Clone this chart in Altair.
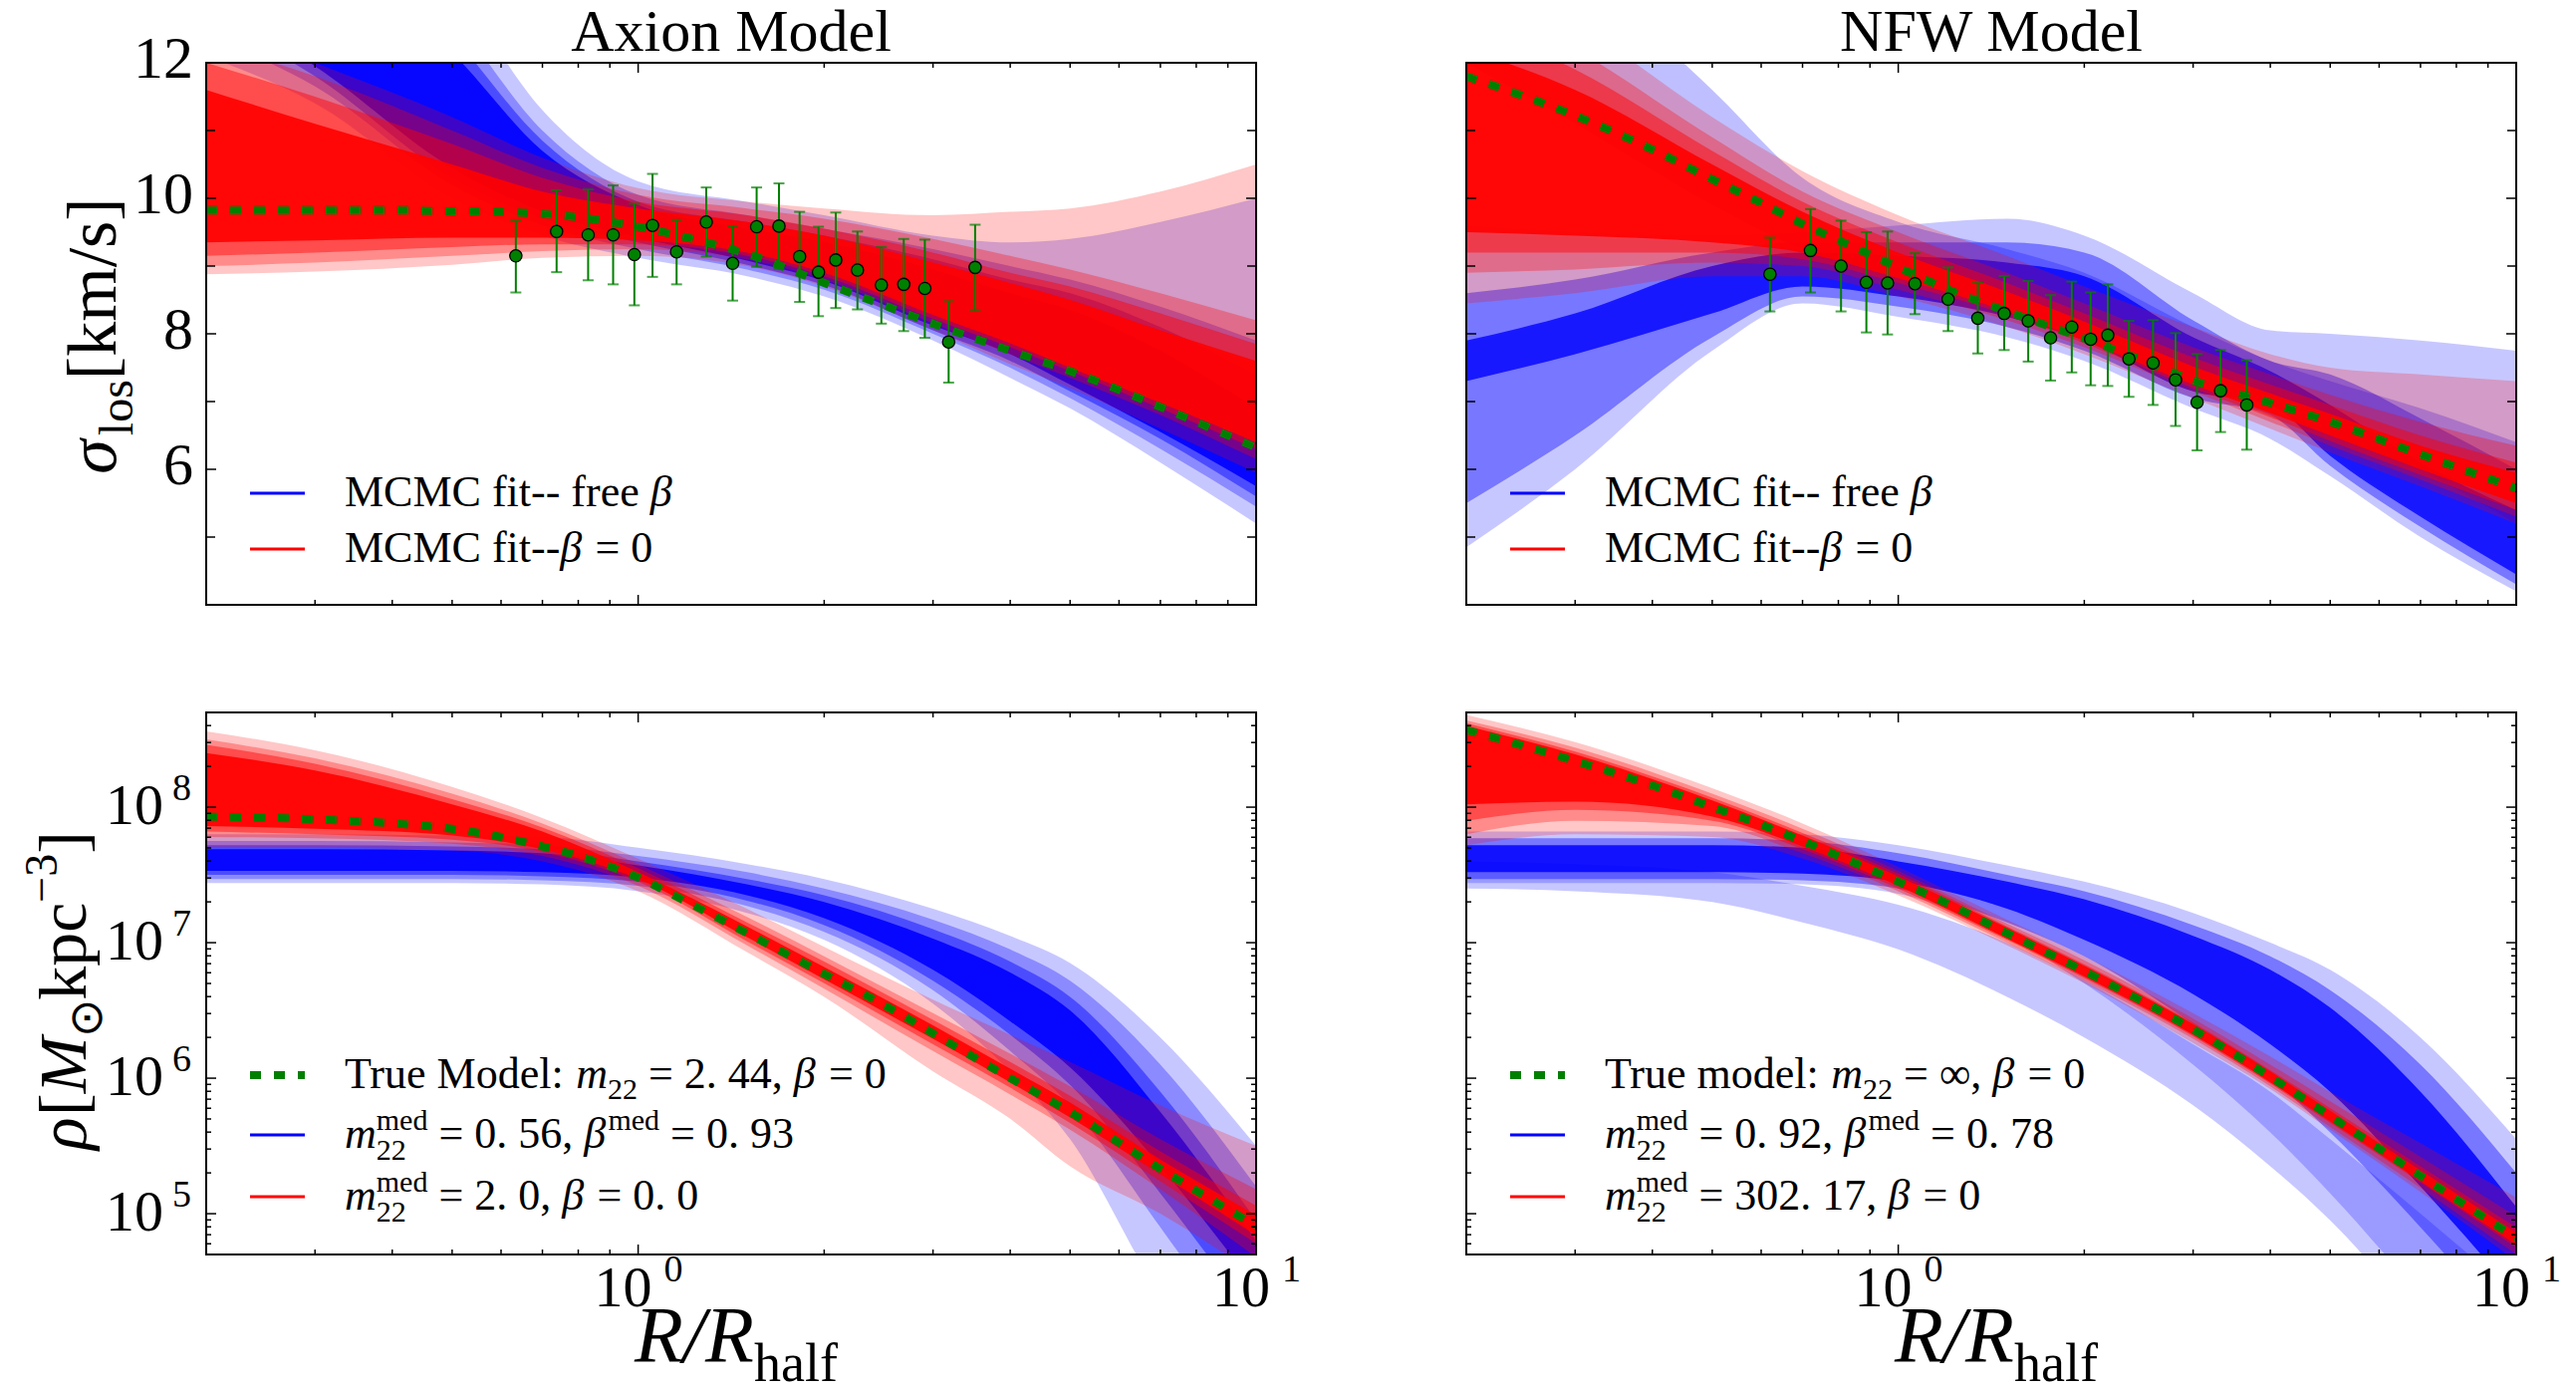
import altair as alt
import pandas as pd

FONT = "Liberation Serif"
W, H = 1054, 544
BLUE, RED, GREEN = "#0000ff", "#ff0000", "#008000"

# ---------------- shared x grids ----------------
BAND_X = [0.2, 0.3, 0.5, 0.7, 1.0, 1.5, 2.0, 3.0, 4.0, 5.0, 7.0, 10.0]
TRUE_X = [0.2, 0.3, 0.4, 0.5, 0.6, 0.7, 0.8, 1.0, 1.2, 1.5, 2.0, 2.5, 3.0, 4.0, 5.0, 7.0, 10.0]

# ---------------- Axion model : sigma_los ----------------
AX_SIG_TRUE = [9.82, 9.82, 9.82, 9.81, 9.80, 9.77, 9.72, 9.58, 9.42, 9.18, 8.75, 8.42, 8.15, 7.75, 7.45, 6.92, 6.32]
AX_SIG_BLUE_LO = [
    [12.1, 11.4, 10.0, 9.45, 9.12, 8.85, 8.55, 7.90, 7.35, 6.90, 6.10, 5.20],
    [12.4, 11.65, 10.2, 9.60, 9.25, 8.95, 8.65, 8.00, 7.50, 7.05, 6.30, 5.45],
    [12.7, 11.8, 10.3, 9.70, 9.35, 9.02, 8.72, 8.05, 7.60, 7.15, 6.45, 5.60],
    [12.9, 11.95, 10.45, 9.80, 9.42, 9.08, 8.78, 8.12, 7.70, 7.25, 6.55, 5.75],
]
AX_SIG_BLUE_HI = [
    [17.0, 15.5, 13.2, 11.3, 10.25, 9.95, 9.75, 9.45, 9.35, 9.40, 9.65, 10.0],
    [16.0, 14.8, 12.7, 11.0, 10.05, 9.75, 9.55, 9.25, 9.00, 8.80, 8.40, 7.90],
    [15.5, 14.3, 12.4, 10.85, 9.95, 9.65, 9.45, 9.10, 8.80, 8.60, 8.10, 7.40],
    [15.0, 13.8, 12.15, 10.7, 9.90, 9.55, 9.35, 8.95, 8.60, 8.35, 7.75, 6.90],
]
AX_SIG_BLUE_ALPHA = [0.22, 0.3, 0.45, 0.9]
AX_SIG_RED_LO = [
    [8.88, 8.92, 9.02, 9.12, 9.15, 9.00, 8.70, 8.05, 7.55, 7.20, 6.60, 5.95],
    [9.00, 9.05, 9.15, 9.22, 9.25, 9.10, 8.80, 8.15, 7.70, 7.35, 6.80, 6.15],
    [9.15, 9.20, 9.28, 9.32, 9.32, 9.15, 8.85, 8.22, 7.80, 7.45, 6.90, 6.30],
    [9.35, 9.38, 9.42, 9.42, 9.38, 9.20, 8.90, 8.28, 7.86, 7.50, 6.98, 6.40],
]
AX_SIG_RED_HI = [
    [12.6, 12.0, 11.2, 10.6, 10.15, 9.95, 9.85, 9.75, 9.80, 9.85, 10.10, 10.50],
    [12.3, 11.8, 11.0, 10.45, 10.05, 9.85, 9.70, 9.40, 9.15, 8.95, 8.60, 8.20],
    [12.0, 11.5, 10.8, 10.3, 9.95, 9.75, 9.55, 9.20, 8.90, 8.70, 8.30, 7.85],
    [11.6, 11.1, 10.5, 10.1, 9.85, 9.65, 9.45, 9.05, 8.75, 8.50, 8.05, 7.60],
]
AX_SIG_RED_ALPHA = [0.22, 0.3, 0.45, 0.9]
AX_OBS_R = [0.634, 0.738, 0.830, 0.911, 0.986, 1.055, 1.154, 1.289, 1.422, 1.555,
            1.690, 1.825, 1.958, 2.088, 2.264, 2.475, 2.69, 2.91, 3.18, 3.51]
AX_OBS_SIG = [9.15, 9.51, 9.46, 9.46, 9.17, 9.60, 9.21, 9.65, 9.04, 9.58,
              9.59, 9.14, 8.91, 9.09, 8.94, 8.72, 8.73, 8.67, 7.88, 8.98]
AX_OBS_TOP = [9.67, 10.12, 10.13, 10.19, 9.92, 10.36, 9.68, 10.16, 9.59, 10.16,
              10.22, 9.80, 9.58, 9.79, 9.51, 9.28, 9.40, 9.39, 8.48, 9.61]
AX_OBS_BOT = [8.61, 8.91, 8.79, 8.73, 8.42, 8.84, 8.73, 9.14, 8.49, 8.99,
              8.96, 8.47, 8.26, 8.38, 8.36, 8.15, 8.04, 7.94, 7.28, 8.35]

# ---------------- NFW model : sigma_los ----------------
NFW_SIG_TRUE = [11.80, 11.22, 10.72, 10.28, 9.93, 9.62, 9.38, 8.98, 8.66, 8.33, 7.93, 7.60, 7.31, 6.98, 6.70, 6.22, 5.72]
NFW_SIG_BLUE_LO = [
    [4.85, 6.00, 7.75, 8.45, 8.25, 7.95, 7.60, 6.90, 6.45, 5.90, 5.00, 4.20],
    [12.0, 11.1, 9.90, 9.25, 8.85, 8.45, 8.10, 7.40, 7.05, 6.70, 6.00, 5.20],
    [5.50, 6.50, 7.95, 8.55, 8.40, 8.10, 7.75, 7.05, 6.80, 6.05, 5.15, 4.30],
    [7.30, 7.70, 8.30, 8.70, 8.55, 8.25, 7.90, 7.15, 6.95, 6.20, 5.30, 4.45],
]
NFW_SIG_BLUE_HI = [
    [9.60, 9.50, 9.45, 9.50, 9.60, 9.70, 9.45, 8.60, 8.05, 8.00, 7.90, 7.75],
    [14.5, 13.4, 11.6, 10.3, 9.65, 9.25, 8.90, 8.10, 7.60, 7.30, 6.90, 6.40],
    [8.60, 8.80, 9.20, 9.35, 9.35, 9.35, 9.20, 8.20, 7.60, 7.40, 6.75, 6.00],
    [7.90, 8.30, 9.00, 9.20, 9.15, 9.05, 8.85, 7.95, 7.45, 6.95, 6.10, 5.40],
]
NFW_SIG_BLUE_ALPHA = [0.22, 0.25, 0.4, 0.8]
NFW_SIG_RED_LO = [
    [8.45, 8.60, 8.85, 8.85, 8.55, 8.10, 7.70, 7.05, 6.60, 6.25, 5.75, 5.20],
    [8.90, 8.95, 9.05, 9.00, 8.65, 8.20, 7.80, 7.15, 6.70, 6.35, 5.85, 5.30],
    [9.20, 9.20, 9.20, 9.10, 8.75, 8.28, 7.86, 7.20, 6.77, 6.42, 5.92, 5.40],
    [9.50, 9.45, 9.35, 9.20, 8.82, 8.33, 7.90, 7.25, 6.83, 6.50, 6.00, 5.50],
]
NFW_SIG_RED_HI = [
    [13.5, 12.6, 11.2, 10.4, 9.75, 9.15, 8.70, 8.10, 7.70, 7.50, 7.40, 7.30],
    [13.0, 12.2, 10.9, 10.1, 9.50, 8.90, 8.45, 7.80, 7.40, 7.10, 6.70, 6.35],
    [12.6, 11.9, 10.7, 9.95, 9.35, 8.75, 8.30, 7.65, 7.25, 6.95, 6.50, 6.10],
    [12.2, 11.6, 10.5, 9.80, 9.20, 8.62, 8.18, 7.52, 7.12, 6.82, 6.35, 5.95],
]
NFW_SIG_RED_ALPHA = [0.22, 0.3, 0.45, 0.9]
NFW_OBS_R = [0.620, 0.721, 0.808, 0.888, 0.961, 1.064, 1.204, 1.345, 1.484, 1.623,
             1.764, 1.909, 2.048, 2.183, 2.362, 2.584, 2.81, 3.045, 3.323, 3.664]
NFW_OBS_SIG = [8.88, 9.23, 9.00, 8.76, 8.75, 8.74, 8.51, 8.23, 8.30, 8.19,
               7.94, 8.10, 7.92, 7.98, 7.63, 7.57, 7.32, 6.99, 7.16, 6.95]
NFW_OBS_TOP = [9.42, 9.84, 9.67, 9.50, 9.51, 9.19, 8.98, 8.75, 8.85, 8.78,
               8.57, 8.77, 8.61, 8.73, 8.19, 8.20, 8.01, 7.70, 7.76, 7.61]
NFW_OBS_BOT = [8.33, 8.61, 8.33, 8.02, 7.99, 8.29, 8.04, 7.71, 7.76, 7.59,
               7.31, 7.43, 7.24, 7.23, 7.07, 6.95, 6.64, 6.28, 6.55, 6.29]

# ---------------- Axion model : density (log10 of rho) ----------------
AX_RHO_TRUE_LOG10 = [7.93, 7.91, 7.88, 7.84, 7.78, 7.71, 7.64, 7.48, 7.30, 7.07, 6.77, 6.54, 6.33, 6.00, 5.75, 5.33, 4.91]
AX_RHO_BLUE_LO_LOG10 = [
    [7.44, 7.44, 7.44, 7.43, 7.38, 7.22, 7.02, 6.55, 6.05, 5.55, 4.40, 3.50],
    [7.47, 7.47, 7.47, 7.46, 7.42, 7.27, 7.08, 6.65, 6.20, 5.80, 4.90, 3.90],
    [7.50, 7.50, 7.50, 7.49, 7.45, 7.31, 7.13, 6.72, 6.32, 5.95, 5.15, 4.20],
    [7.53, 7.53, 7.53, 7.52, 7.48, 7.35, 7.18, 6.80, 6.42, 6.08, 5.35, 4.45],
]
AX_RHO_BLUE_HI_LOG10 = [
    [7.80, 7.80, 7.79, 7.78, 7.70, 7.58, 7.47, 7.25, 7.05, 6.85, 6.30, 5.50],
    [7.75, 7.75, 7.74, 7.72, 7.64, 7.52, 7.40, 7.17, 6.95, 6.72, 6.10, 5.20],
    [7.72, 7.72, 7.71, 7.69, 7.60, 7.47, 7.35, 7.10, 6.86, 6.60, 5.90, 4.95],
    [7.69, 7.69, 7.68, 7.66, 7.57, 7.43, 7.30, 7.03, 6.78, 6.50, 5.75, 4.80],
]
AX_RHO_BLUE_ALPHA = [0.22, 0.3, 0.45, 0.9]
AX_RHO_RED_LO_LOG10 = [
    [7.70, 7.70, 7.68, 7.60, 7.38, 6.93, 6.60, 6.05, 5.70, 5.35, 5.00, 4.55],
    [7.78, 7.77, 7.73, 7.64, 7.42, 6.98, 6.66, 6.20, 5.88, 5.62, 5.18, 4.68],
    [7.82, 7.80, 7.76, 7.67, 7.45, 7.01, 6.70, 6.25, 5.93, 5.67, 5.24, 4.78],
    [7.86, 7.84, 7.79, 7.69, 7.47, 7.04, 6.73, 6.29, 5.97, 5.71, 5.29, 4.84],
]
AX_RHO_RED_HI_LOG10 = [
    [8.56, 8.42, 8.15, 7.92, 7.62, 7.25, 6.97, 6.58, 6.32, 6.12, 5.80, 5.50],
    [8.50, 8.36, 8.10, 7.88, 7.58, 7.19, 6.90, 6.48, 6.18, 5.94, 5.55, 5.18],
    [8.46, 8.32, 8.06, 7.85, 7.55, 7.15, 6.86, 6.43, 6.12, 5.87, 5.46, 5.06],
    [8.40, 8.27, 8.02, 7.82, 7.52, 7.12, 6.82, 6.39, 6.07, 5.82, 5.40, 4.99],
]
AX_RHO_RED_ALPHA = [0.22, 0.3, 0.45, 0.9]

# ---------------- NFW model : density (log10 of rho) ----------------
NFW_RHO_TRUE_LOG10 = [8.57, 8.34, 8.16, 8.00, 7.87, 7.75, 7.64, 7.45, 7.29, 7.07, 6.79, 6.56, 6.36, 6.01, 5.72, 5.28, 4.82]
NFW_RHO_BLUE_LO_LOG10 = [
    [7.44, 7.44, 7.44, 7.43, 7.36, 7.05, 6.70, 6.10, 5.60, 5.15, 4.40, 3.60],
    [7.40, 7.38, 7.30, 7.15, 6.95, 6.60, 6.30, 5.80, 5.35, 4.95, 4.20, 3.30],
    [7.47, 7.47, 7.47, 7.46, 7.40, 7.15, 6.90, 6.40, 6.00, 5.60, 4.90, 4.10],
    [7.52, 7.52, 7.52, 7.51, 7.45, 7.25, 7.02, 6.62, 6.25, 5.90, 5.20, 4.40],
]
NFW_RHO_BLUE_HI_LOG10 = [
    [7.82, 7.82, 7.82, 7.80, 7.72, 7.57, 7.45, 7.22, 7.00, 6.80, 6.30, 5.55],
    [7.60, 7.58, 7.52, 7.42, 7.28, 7.00, 6.72, 6.25, 5.90, 5.55, 5.00, 4.40],
    [7.77, 7.77, 7.77, 7.75, 7.66, 7.50, 7.38, 7.13, 6.90, 6.65, 6.10, 5.30],
    [7.72, 7.72, 7.72, 7.70, 7.60, 7.45, 7.32, 7.05, 6.80, 6.52, 5.90, 5.05],
]
NFW_RHO_BLUE_ALPHA = [0.22, 0.22, 0.4, 0.85]
NFW_RHO_RED_LO_LOG10 = [
    [7.72, 7.80, 7.78, 7.62, 7.35, 6.98, 6.70, 6.26, 5.92, 5.62, 5.16, 4.65],
    [7.80, 7.90, 7.86, 7.66, 7.38, 7.00, 6.72, 6.29, 5.94, 5.64, 5.19, 4.70],
    [7.90, 7.98, 7.90, 7.69, 7.40, 7.02, 6.74, 6.31, 5.96, 5.67, 5.23, 4.75],
    [8.02, 8.04, 7.93, 7.71, 7.42, 7.03, 6.75, 6.32, 5.97, 5.68, 5.24, 4.77],
]
NFW_RHO_RED_HI_LOG10 = [
    [8.68, 8.48, 8.14, 7.88, 7.56, 7.17, 6.90, 6.48, 6.16, 5.90, 5.52, 5.12],
    [8.64, 8.44, 8.10, 7.84, 7.53, 7.14, 6.87, 6.44, 6.10, 5.83, 5.42, 4.98],
    [8.62, 8.41, 8.07, 7.81, 7.51, 7.12, 6.84, 6.41, 6.06, 5.78, 5.35, 4.90],
    [8.60, 8.39, 8.05, 7.79, 7.49, 7.11, 6.83, 6.40, 6.05, 5.76, 5.32, 4.86],
]
NFW_RHO_RED_ALPHA = [0.22, 0.3, 0.45, 0.9]

# ---------------- text ----------------
TITLES = ["Axion Model", "NFW Model"]
SIG_LEGEND = [
    [("rm", "MCMC fit-- free "), ("it", "\u03b2")],
    [("rm", "MCMC fit--"), ("it", "\u03b2"), ("rm", " = 0")],
]
AX_RHO_LEGEND = [
    [("rm", "True Model: "), ("it", "m"), ("sub", "22"), ("rm", " = 2. 44, "), ("it", "\u03b2"), ("rm", " = 0")],
    [("it", "m"), ("subsup", "med", "22"), ("rm", " = 0. 56, "), ("it", "\u03b2"), ("sup", "med"), ("rm", " = 0. 93")],
    [("it", "m"), ("subsup", "med", "22"), ("rm", " = 2. 0, "), ("it", "\u03b2"), ("rm", " = 0. 0")],
]
NFW_RHO_LEGEND = [
    [("rm", "True model: "), ("it", "m"), ("sub", "22"), ("rm", " = \u221e, "), ("it", "\u03b2"), ("rm", " = 0")],
    [("it", "m"), ("subsup", "med", "22"), ("rm", " = 0. 92, "), ("it", "\u03b2"), ("sup", "med"), ("rm", " = 0. 78")],
    [("it", "m"), ("subsup", "med", "22"), ("rm", " = 302. 17, "), ("it", "\u03b2"), ("rm", " = 0")],
]
SIG_YTITLE = [("it", "\u03c3"), ("sub", "los"), ("rm", "[km/s]")]
RHO_YTITLE = [("it", "\u03c1"), ("rm", "["), ("it", "M"), ("sub", "\u2299"), ("rm", "kpc"), ("sup", "\u22123"), ("rm", "]")]
X_TITLE = [("it", "R/R"), ("sub", "half")]

LIN_TICKS_MAJOR = [4, 6, 8, 10, 12]
LIN_TICKS_MINOR = [5, 7, 9, 11]
LIN_LABELS = [6, 8, 10, 12]
X_MAJOR = [1, 10]
X_MINOR = [0.3, 0.4, 0.5, 0.6, 0.7, 0.8, 0.9, 2, 3, 4, 5, 6, 7, 8, 9]
X_LABEL_EXP = ["0", "1"]
LOG_Y_MAJOR = [1e5, 1e6, 1e7, 1e8]
LOG_Y_EXP = ["5", "6", "7", "8"]
LOG_Y_MINOR = [m * 10 ** d for d in range(4, 9) for m in range(2, 10) if 5e4 <= m * 10 ** d <= 5e8]

# ---------------- helpers ----------------
ONE = pd.DataFrame({"k": [0]})
CW = {" ": .25, ",": .25, "-": .333, ".": .25, "/": .278, ":": .278, "=": .564, "[": .333, "]": .333,
      "C": .667, "M": .889, "T": .611, "R": .667, "a": .444, "c": .444, "d": .5, "e": .444, "f": .333,
      "h": .5, "i": .278, "k": .5, "l": .278, "m": .778, "o": .5, "p": .5, "r": .333, "s": .389,
      "t": .278, "u": .5, "\u03b2": .55, "\u03c3": .55, "\u03c1": .5, "\u221e": .713, "\u2299": .8,
      "\u2212": .564}
CW_IT = {"m": .722, "R": .611, "M": .833}


def tw(s, size, italic=False):
    tot = 0.0
    for c in s:
        if italic and c in CW_IT:
            tot += CW_IT[c]
        else:
            tot += CW.get(c, 0.5)
    return tot * size


def txt(s, x, y, size, italic=False, align="left", angle=0):
    kw = dict(text=s, fontSize=size, font=FONT, align=align, baseline="alphabetic", color="black")
    if italic:
        kw["fontStyle"] = "italic"
    if angle:
        kw["angle"] = angle
    return alt.Chart(ONE).mark_text(**kw).encode(x=alt.value(x), y=alt.value(y))


def rich(parts, x0, y0, size, angle=0):
    small = round(size * 0.68)
    out = []

    def put(s, a, d, sz, italic):
        n = len(s) - len(s.lstrip(" "))
        a += n * 0.25 * sz
        s = s.strip(" ")
        if not s:
            return
        if angle == 0:
            px, py = x0 + a, y0 + d
        else:
            px, py = x0 + d, y0 - a
        out.append(txt(s, px, py, sz, italic, angle=angle))

    adv = 0.0
    for part in parts:
        kind = part[0]
        if kind in ("rm", "it"):
            put(part[1], adv, 0, size, kind == "it")
            adv += tw(part[1], size, kind == "it")
        elif kind == "sub":
            put(part[1], adv, 0.24 * size, small, False)
            adv += tw(part[1], small)
        elif kind == "sup":
            put(part[1], adv, -0.42 * size, small, False)
            adv += tw(part[1], small)
        elif kind == "subsup":
            put(part[1], adv, -0.42 * size, small, False)
            put(part[2], adv, 0.27 * size, small, False)
            adv += max(tw(part[1], small), tw(part[2], small))
    return out


def rich_len(parts, size):
    small = round(size * 0.68)
    tot = 0.0
    for part in parts:
        if part[0] in ("rm", "it"):
            tot += tw(part[1], size, part[0] == "it")
        elif part[0] == "subsup":
            tot += max(tw(part[1], small), tw(part[2], small))
        else:
            tot += tw(part[1], small)
    return tot


def band_frame(los, his, alphas, log=False):
    rows = []
    for i, (lo, hi, a) in enumerate(zip(los, his, alphas)):
        for x, l, h in zip(BAND_X, lo, hi):
            if log:
                l, h = 10 ** l, 10 ** h
            rows.append({"x": x, "lo": l, "hi": h, "band": i, "op": a})
    return pd.DataFrame(rows)


XS = alt.Scale(type="log", domain=[0.2, 10], nice=False)


def make_panel(ylog, blue, red, true_y, obs=None, title=None, legend=None, legend_kind="sig",
               left=False, bottom=False, ytitle=None):
    if ylog:
        YS = alt.Scale(type="log", domain=[5e4, 5e8], nice=False)
    else:
        YS = alt.Scale(domain=[4, 12], nice=False, zero=False)

    def X(f):
        return alt.X(f, type="quantitative", scale=XS, axis=None)

    def Y(f):
        return alt.Y(f, type="quantitative", scale=YS, axis=None)

    layers = []
    for frame, color in ((blue, BLUE), (red, RED)):
        layers.append(
            alt.Chart(frame).mark_area(clip=True, interpolate="monotone", color=color).encode(
                x=X("x"), y=Y("lo"), y2=alt.Y2("hi"), detail="band:N",
                opacity=alt.Opacity("op:Q", scale=None, legend=None)))
    tdf = pd.DataFrame({"x": TRUE_X, "y": true_y})
    layers.append(alt.Chart(tdf).mark_line(clip=True, interpolate="monotone", color=GREEN,
                                           strokeWidth=8, strokeDash=[11, 13]).encode(x=X("x"), y=Y("y")))
    if obs is not None:
        odf = pd.DataFrame({"x": obs[0], "y": obs[1], "top": obs[2], "bot": obs[3]})
        layers.append(alt.Chart(odf).mark_rule(color=GREEN, strokeWidth=2).encode(
            x=X("x"), y=Y("bot"), y2=alt.Y2("top")))
        for f in ("top", "bot"):
            layers.append(alt.Chart(odf).mark_tick(orient="horizontal", size=11, thickness=2, color=GREEN)
                          .encode(x=X("x"), y=Y(f)))
        layers.append(alt.Chart(odf).mark_circle(size=150, color=GREEN, opacity=1, stroke="black",
                                                 strokeWidth=1.3).encode(x=X("x"), y=Y("y")))

    # inward ticks on all four sides
    xmaj = pd.DataFrame({"v": X_MAJOR})
    xmin = pd.DataFrame({"v": X_MINOR})
    for df, L in ((xmaj, 10), (xmin, 5)):
        layers.append(alt.Chart(df).mark_rule(color="black", strokeWidth=1.5).encode(
            x=X("v"), y=alt.value(H - L), y2=alt.value(H)))
        layers.append(alt.Chart(df).mark_rule(color="black", strokeWidth=1.5).encode(
            x=X("v"), y=alt.value(0), y2=alt.value(L)))
    if ylog:
        ylist = ((pd.DataFrame({"v": LOG_Y_MAJOR}), 10), (pd.DataFrame({"v": LOG_Y_MINOR}), 5))
    else:
        ylist = ((pd.DataFrame({"v": LIN_TICKS_MAJOR}), 10), (pd.DataFrame({"v": LIN_TICKS_MINOR}), 9))
    for df, L in ylist:
        layers.append(alt.Chart(df).mark_rule(color="black", strokeWidth=1.5).encode(
            y=Y("v"), x=alt.value(0), x2=alt.value(L)))
        layers.append(alt.Chart(df).mark_rule(color="black", strokeWidth=1.5).encode(
            y=Y("v"), x=alt.value(W - L), x2=alt.value(W)))

    # tick labels
    if left:
        if ylog:
            ldf = pd.DataFrame({"v": LOG_Y_MAJOR, "e": LOG_Y_EXP})
            layers.append(alt.Chart(ldf).mark_text(text="10", align="right", baseline="alphabetic", dy=17,
                                                   fontSize=58, font=FONT, color="black")
                          .encode(x=alt.value(-43), y=Y("v")))
            layers.append(alt.Chart(ldf).mark_text(align="right", baseline="alphabetic", dy=-7,
                                                   fontSize=38, font=FONT, color="black")
                          .encode(x=alt.value(-15), y=Y("v"), text="e:N"))
        else:
            ldf = pd.DataFrame({"v": LIN_LABELS, "t": [str(v) for v in LIN_LABELS]})
            layers.append(alt.Chart(ldf).mark_text(align="right", baseline="alphabetic", dy=15,
                                                   fontSize=60, font=FONT, color="black")
                          .encode(x=alt.value(-13), y=Y("v"), text="t:N"))
    if bottom:
        xdf = pd.DataFrame({"v": X_MAJOR, "e": X_LABEL_EXP})
        layers.append(alt.Chart(xdf).mark_text(text="10", align="right", baseline="alphabetic", dx=14,
                                               fontSize=58, font=FONT, color="black")
                      .encode(x=X("v"), y=alt.value(H + 52)))
        layers.append(alt.Chart(xdf).mark_text(align="left", baseline="alphabetic", dx=26,
                                               fontSize=38, font=FONT, color="black")
                      .encode(x=X("v"), y=alt.value(H + 27), text="e:N"))
        layers += rich(X_TITLE, 550 - tw("R/R", 80, True), H + 108, 80)

    if ytitle is not None:
        if ylog:
            size = 68
            layers += rich(ytitle, -121, 279 + rich_len(ytitle, size) / 2, size, angle=270)
        else:
            size = 70
            layers += rich(ytitle, -91, 274 + rich_len(ytitle, size) / 2, size, angle=270)

    if title:
        layers.append(txt(title, W / 2, -12, 60, align="center"))

    # legend
    if legend_kind == "sig":
        ys = [432, 488]
        swatches = [(BLUE, 3, None), (RED, 3, None)]
    else:
        ys = [364, 424, 486]
        swatches = [(GREEN, 8, [11, 13]), (BLUE, 3, None), (RED, 3, None)]
    for yy, (col, sw, dash), row in zip(ys, swatches, legend):
        kw = dict(color=col, strokeWidth=sw)
        if dash:
            kw["strokeDash"] = dash
        layers.append(alt.Chart(ONE).mark_rule(**kw).encode(
            x=alt.value(44), x2=alt.value(99), y=alt.value(yy)))
        layers += rich(row, 139, yy + 13, 44)

    # frame
    layers.append(alt.Chart(ONE).mark_rect(filled=False, stroke="black", strokeWidth=2).encode(
        x=alt.value(0), x2=alt.value(W), y=alt.value(0), y2=alt.value(H)))

    return alt.layer(*layers).properties(width=W, height=H)


p1 = make_panel(False,
                band_frame(AX_SIG_BLUE_LO, AX_SIG_BLUE_HI, AX_SIG_BLUE_ALPHA),
                band_frame(AX_SIG_RED_LO, AX_SIG_RED_HI, AX_SIG_RED_ALPHA),
                AX_SIG_TRUE, obs=(AX_OBS_R, AX_OBS_SIG, AX_OBS_TOP, AX_OBS_BOT),
                title=TITLES[0], legend=SIG_LEGEND, legend_kind="sig", left=True, ytitle=SIG_YTITLE)
p2 = make_panel(False,
                band_frame(NFW_SIG_BLUE_LO, NFW_SIG_BLUE_HI, NFW_SIG_BLUE_ALPHA),
                band_frame(NFW_SIG_RED_LO, NFW_SIG_RED_HI, NFW_SIG_RED_ALPHA),
                NFW_SIG_TRUE, obs=(NFW_OBS_R, NFW_OBS_SIG, NFW_OBS_TOP, NFW_OBS_BOT),
                title=TITLES[1], legend=SIG_LEGEND, legend_kind="sig")
p3 = make_panel(True,
                band_frame(AX_RHO_BLUE_LO_LOG10, AX_RHO_BLUE_HI_LOG10, AX_RHO_BLUE_ALPHA, log=True),
                band_frame(AX_RHO_RED_LO_LOG10, AX_RHO_RED_HI_LOG10, AX_RHO_RED_ALPHA, log=True),
                [10 ** v for v in AX_RHO_TRUE_LOG10],
                legend=AX_RHO_LEGEND, legend_kind="rho", left=True, bottom=True, ytitle=RHO_YTITLE)
p4 = make_panel(True,
                band_frame(NFW_RHO_BLUE_LO_LOG10, NFW_RHO_BLUE_HI_LOG10, NFW_RHO_BLUE_ALPHA, log=True),
                band_frame(NFW_RHO_RED_LO_LOG10, NFW_RHO_RED_HI_LOG10, NFW_RHO_RED_ALPHA, log=True),
                [10 ** v for v in NFW_RHO_TRUE_LOG10],
                legend=NFW_RHO_LEGEND, legend_kind="rho", bottom=True)

chart = alt.concat(
    p1, p2, p3, p4, columns=2, spacing={"row": 108, "column": 211}, bounds="flush",
).properties(
    padding={"left": 19, "top": 2, "right": 10, "bottom": 0}
).configure_view(stroke="transparent")

chart.save("out.html", embed_options={"renderer": "svg", "actions": False})
